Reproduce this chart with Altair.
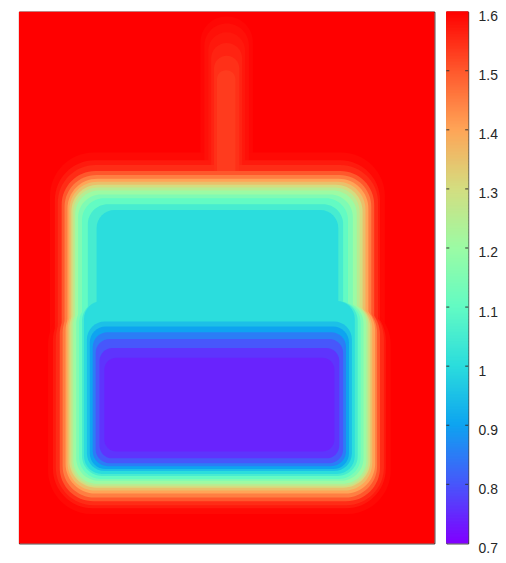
import altair as alt
import pandas as pd

# colour bar tick labels (value axis of the field)
bar_ticks = [0.7, 0.8, 0.9, 1.0, 1.1, 1.2, 1.3, 1.4, 1.5, 1.6]
inner_ticks = [0.8, 0.9, 1.0, 1.1, 1.2, 1.3, 1.4, 1.5]

# rainbow colour map sampled at the tick values
rainbow = ["#8000ff", "#4757fb", "#0ea4f0", "#2bdddd", "#63fbc3",
           "#9cfba4", "#d4dd80", "#ffa457", "#ff572c", "#ff0000"]

# field read from the picture as nested iso-level regions
# background
bg_level = [1.6]
bg_left, bg_right, bg_top, bg_bottom = [0], [428], [0], [544]

# thin vertical plume above the block
pl_level = [1.592, 1.582, 1.572, 1.56, 1.545, 1.532]
pl_left = [187, 191, 195, 198, 201, 204]
pl_right = [241, 237, 233, 230, 227, 223]
pl_top = [5, 12, 21, 32, 45, 60]
pl_bottom = [177, 177, 177, 177, 177, 172]

# outer iso-levels, upper part of the block (bottom runs under the lower part)
ob_level = [1.59, 1.57, 1.55, 1.5, 1.45, 1.4, 1.35, 1.3, 1.25, 1.2, 1.15, 1.1, 1.05, 1.0]
up_left = [32, 37, 40, 44, 47, 50, 52, 54, 56, 58, 61, 65, 71, 80]
up_right = [377, 372, 370, 366, 363, 360, 357, 354, 351, 348, 344, 339, 334, 329]
up_top = [144, 152, 157, 163, 167, 171, 174, 177, 180, 183, 187, 191, 197, 203]
up_bottom = [392] * 14

# outer iso-levels, lower part of the block (slightly wider)
lo_left = [30, 35, 38, 42, 45, 48, 50, 52, 54, 56, 59, 62, 65, 67]
lo_right = [383, 378, 376, 372, 369, 367, 364, 362, 360, 358, 355, 352, 349, 346]
lo_top = [296] * 14
lo_bottom = [514, 508, 505, 501, 497, 493, 490, 487, 485, 483, 480, 478, 475, 473]

# inner iso-levels of the low-value lower block
in_level = [0.95, 0.9, 0.85, 0.8, 0.76, 0.74]
in_left = [70, 73, 76, 79, 83, 88]
in_right = [343, 340, 337, 334, 330, 325]
in_top = [317, 322, 328, 335, 344, 354]
in_bottom = [470, 468, 465, 462, 457, 450]

# style: corner rounding of each iso-level region
corner = {1.6: 0,
          1.592: 26, 1.582: 23, 1.572: 19, 1.56: 16, 1.545: 13, 1.532: 9,
          1.59: 44, 1.57: 40, 1.55: 38, 1.5: 34, 1.45: 32, 1.4: 30,
          1.35: 28, 1.3: 27, 1.25: 25, 1.2: 24, 1.15: 23, 1.1: 22,
          1.05: 20, 1.0: 18, 0.95: 18, 0.9: 16, 0.85: 15, 0.8: 14,
          0.76: 13, 0.74: 12}

field = pd.DataFrame({
    "level": bg_level + pl_level + ob_level + ob_level + in_level,
    "x0": bg_left + pl_left + up_left + lo_left + in_left,
    "x1": bg_right + pl_right + up_right + lo_right + in_right,
    "y0": bg_top + pl_top + up_top + lo_top + in_top,
    "y1": bg_bottom + pl_bottom + up_bottom + lo_bottom + in_bottom,
})

W, H = 418, 535

xs = alt.Scale(domain=[0, 428], nice=False, zero=False)
ys = alt.Scale(domain=[0, 544], reverse=True, nice=False, zero=False)
cs = alt.Scale(domain=bar_ticks, range=rainbow, interpolate="rgb")

base = alt.Chart(field)
layers = []
for lv in sorted(set(field["level"]), reverse=True):
    layers.append(
        base.transform_filter(alt.FieldEqualPredicate(field="level", equal=float(lv)))
        .mark_rect(cornerRadius=corner[lv])
        .encode(
            x=alt.X("x0:Q", scale=xs, axis=None),
            x2="x1:Q",
            y=alt.Y("y0:Q", scale=ys, axis=None),
            y2="y1:Q",
            color=alt.Color("level:Q", scale=cs, legend=None),
        )
    )
heat = alt.layer(*layers).properties(width=W, height=H)

vs = alt.Scale(domain=[0.7, 1.6], nice=False, zero=False)
strip = (
    alt.Chart(alt.sequence(0.7, 1.6, 0.0025, as_="v"))
    .transform_calculate(v2="min(datum.v + 0.008, 1.6)")
    .mark_rect()
    .encode(
        y=alt.Y("v:Q", scale=vs,
                axis=alt.Axis(orient="right", values=bar_ticks, format="~g",
                              ticks=False, domain=False, grid=False,
                              labelPadding=10, labelFontSize=14, labelOffset=5,
                              labelFont="Liberation Sans", labelColor="#262626",
                              title=None)),
        y2="v2:Q",
        color=alt.Color("v:Q", scale=cs, legend=None),
    )
)
tick_df = pd.DataFrame({"t": inner_ticks})
tl = alt.Chart(tick_df).mark_rule(color="#333333", strokeWidth=1).encode(
    y=alt.Y("t:Q", scale=vs), x=alt.value(0), x2=alt.value(3))
tr = alt.Chart(tick_df).mark_rule(color="#333333", strokeWidth=1).encode(
    y=alt.Y("t:Q", scale=vs), x=alt.value(19), x2=alt.value(22))
bar = alt.layer(strip, tl, tr).properties(width=22, height=H)

chart = (
    alt.hconcat(heat, bar, spacing=10)
    .resolve_scale(color="independent", y="independent", x="independent")
    .properties(padding={"left": 10, "top": -1, "right": 0, "bottom": -1},
                background="white")
    .configure_view(stroke="#1a1a1a", strokeWidth=1)
)

chart.save("out.html", embed_options={"renderer": "svg", "actions": False})
